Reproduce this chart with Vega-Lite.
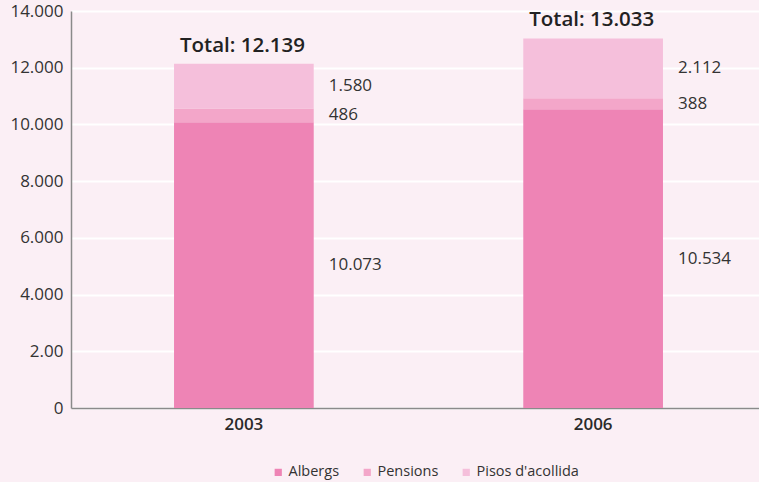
{
  "$schema": "https://vega.github.io/schema/vega-lite/v6.json",
  "width": 695,
  "height": 397,
  "autosize": {"type": "none"},
  "padding": {"left": 71, "top": 11, "right": 0, "bottom": 74},
  "background": "#fbeff5",
  "config": {
    "view": {"stroke": null},
    "font": "Open Sans",
    "locale": {"number": {"decimal": ",", "thousands": ".", "grouping": [3], "currency": ["", " €"]}}
  },
  "datasets": {
    "parts": [
      {"year": "2003", "tipus": "Albergs", "value": 10073},
      {"year": "2003", "tipus": "Pensions", "value": 486},
      {"year": "2003", "tipus": "Pisos d'acollida", "value": 1580},
      {"year": "2006", "tipus": "Albergs", "value": 10534},
      {"year": "2006", "tipus": "Pensions", "value": 388},
      {"year": "2006", "tipus": "Pisos d'acollida", "value": 2112}
    ],
    "totals": [
      {"year": "2003", "total": 12139},
      {"year": "2006", "total": 13033}
    ]
  },
  "data": {"name": "parts"},
  "layer": [
    {
      "mark": {"type": "bar"},
      "encoding": {
        "x": {
          "field": "year", "type": "nominal",
          "scale": {"paddingInner": 0.6, "paddingOuter": 0.295},
          "axis": {"title": null, "labelAngle": 0, "labelFontSize": 17, "labelFontWeight": 600, "labelColor": "#2a2a2a", "labelPadding": 8, "ticks": false, "domainColor": "#8a8a8a", "domainWidth": 1.5}
        },
        "y": {
          "field": "value", "type": "quantitative", "stack": "zero",
          "scale": {"domain": [0, 14000], "nice": false},
          "axis": {"title": null, "values": [0, 2000, 4000, 6000, 8000, 10000, 12000, 14000], "format": ",d", "labelExpr": "datum.value == 2000 ? '2.00' : datum.label", "labelFontSize": 17, "labelColor": "#333333", "labelPadding": 8, "ticks": false, "domainColor": "#8a8a8a", "domainWidth": 1.5, "gridColor": "#ffffff", "gridWidth": 2}
        },
        "order": {"field": "tipus", "sort": "ascending"},
        "color": {
          "field": "tipus", "type": "nominal",
          "scale": {"domain": ["Albergs", "Pensions", "Pisos d'acollida"], "range": ["#ee84b5", "#f3a6c9", "#f5bfdb"]},
          "legend": {"title": null, "orient": "none", "legendX": 200, "legendY": 454, "direction": "horizontal", "symbolType": "square", "symbolSize": 52, "symbolStrokeWidth": 0, "labelFontSize": 14.5, "labelColor": "#333333", "labelOffset": 3, "columnPadding": 20}
        }
      }
    },
    {
      "mark": {"type": "text", "align": "left", "baseline": "middle", "dx": 15, "fontSize": 17, "color": "#333333"},
      "encoding": {
        "x": {"field": "year", "type": "nominal", "bandPosition": 1},
        "y": {"field": "value", "type": "quantitative", "stack": "zero", "bandPosition": 0.5},
        "order": {"field": "tipus", "sort": "ascending"},
        "detail": {"field": "tipus"},
        "text": {"field": "value", "type": "quantitative", "format": ",d"}
      }
    },
    {
      "data": {"name": "totals"},
      "mark": {"type": "text", "align": "left", "baseline": "alphabetic", "dx": 6, "dy": -12, "fontSize": 20.5, "fontWeight": 600, "color": "#222222", "text": {"expr": "'Total: ' + format(datum.total, ',d')"}},
      "encoding": {
        "x": {"field": "year", "type": "nominal", "bandPosition": 0},
        "y": {"field": "total", "type": "quantitative"}
      }
    }
  ]
}
